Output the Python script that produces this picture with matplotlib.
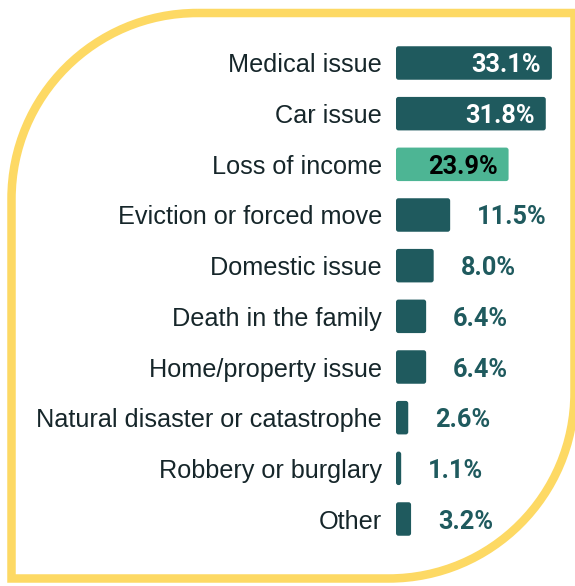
import numpy as np
import matplotlib
matplotlib.use('Agg')
import matplotlib.pyplot as plt
from matplotlib.patches import FancyBboxPatch, PathPatch
from matplotlib.path import Path

# data
categories = ['Medical issue', 'Car issue', 'Loss of income',
              'Eviction or forced move', 'Domestic issue',
              'Death in the family', 'Home/property issue',
              'Natural disaster or catastrophe', 'Robbery or burglary',
              'Other']
values = [33.1, 31.8, 23.9, 11.5, 8.0, 6.4, 6.4, 2.6, 1.1, 3.2]
highlight = 'Loss of income'

TEAL = '#1f5a5e'
GREEN = '#4db594'
YELLOW = '#fdd964'
TEXT = '#16262a'

W, H = 575, 586
fig = plt.figure(figsize=(W / 100, H / 100), dpi=100)
fig.patch.set_facecolor('white')

# bar axes: 0% at x=396px, ~4.71 px per %, rows ~50.7 px apart
px_per_unit = 4.71
row_px = 50.67
ax_left = 396 / W
ax_w = (W - 396) / W
xmax = (W - 396) / px_per_unit
top_px = 63 - row_px / 2
bot_px = 519 + row_px / 2
ax = fig.add_axes([ax_left, (H - bot_px) / H, ax_w, (bot_px - top_px) / H])
ax.set_xlim(0, xmax)
ax.set_ylim(len(categories) - 0.5, -0.5)
ax.axis('off')

bar_h = 33.5 / row_px
r_px = 2.5
r_x = r_px / px_per_unit
aspect = (1 / row_px) / (1 / px_per_unit)

for i, (cat, v) in enumerate(zip(categories, values)):
    color = GREEN if cat == highlight else TEAL
    box = FancyBboxPatch((0, i - bar_h / 2), v, bar_h,
                         boxstyle='round,pad=0,rounding_size=%f' % min(r_x, v / 2),
                         mutation_aspect=aspect, fc=color, ec='none')
    ax.add_patch(box)
    label = '%.1f%%' % v
    if v > 20:
        tc = 'black' if cat == highlight else 'white'
        ax.annotate(label, (v, i), xytext=(-8, 0), textcoords='offset points',
                    ha='right', va='center_baseline', color=tc,
                    fontsize=18.3, fontweight='bold', family='Roboto')
    else:
        ax.annotate(label, (v, i), xytext=(19.5, 0), textcoords='offset points',
                    ha='left', va='center_baseline', color=TEAL,
                    fontsize=18.3, fontweight='bold', family='Roboto')
    ax.annotate(cat, (0, i), xytext=(-10, 0), textcoords='offset points',
                ha='right', va='center_baseline', color=TEXT,
                fontsize=18.2, family='Liberation Sans', annotation_clip=False)

# yellow frame: big rounded corners top-left and bottom-right
frame = fig.add_axes([0, 0, 1, 1])
frame.set_xlim(0, W)
frame.set_ylim(H, 0)
frame.axis('off')
frame.patch.set_alpha(0)
R = 186
lx, rx, ty, by = 11.5, 574.5, 13.0, 578.5
k = 0.5523
verts = [(lx + R, ty), (rx, ty), (rx, by - R),
         (rx, by - R + k * R), (rx - R + k * R, by), (rx - R, by),
         (lx, by), (lx, ty + R),
         (lx, ty + R - k * R), (lx + R - k * R, ty), (lx + R, ty)]
codes = [Path.MOVETO, Path.LINETO, Path.LINETO,
         Path.CURVE4, Path.CURVE4, Path.CURVE4,
         Path.LINETO, Path.LINETO,
         Path.CURVE4, Path.CURVE4, Path.CURVE4]
frame.add_patch(PathPatch(Path(verts, codes), fc='none', ec=YELLOW,
                          lw=8.5 * 0.72, joinstyle='miter'))

fig.savefig('out.png', dpi=100, facecolor='white')
